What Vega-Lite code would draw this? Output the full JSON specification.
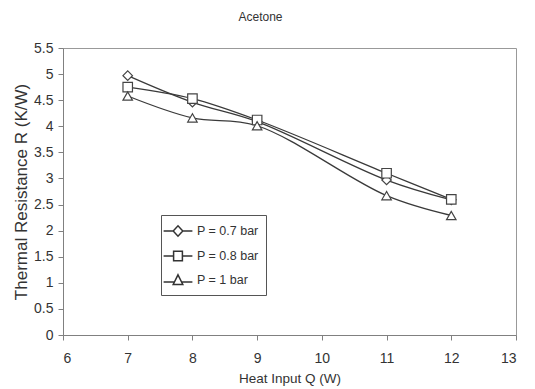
{
  "$schema": "https://vega.github.io/schema/vega-lite/v6.json",
  "width": 453,
  "height": 287,
  "autosize": {"type": "none"},
  "padding": {"left": 63, "top": 48, "right": 19, "bottom": 54},
  "background": "white",
  "title": {
    "text": "Acetone",
    "font": "Liberation Sans, sans-serif",
    "fontSize": 12,
    "fontWeight": "normal",
    "color": "#333333",
    "anchor": "middle",
    "dx": -29,
    "offset": 17
  },
  "config": {
    "view": {"stroke": "#999999", "strokeWidth": 1},
    "axis": {
      "grid": false,
      "domainColor": "#808080",
      "tickColor": "#808080",
      "tickSize": 5,
      "labelFont": "Liberation Sans, sans-serif",
      "labelFontSize": 14,
      "labelColor": "#333333",
      "titleFont": "Liberation Sans, sans-serif",
      "titleFontSize": 13.5,
      "titleFontWeight": "normal",
      "titleColor": "#333333"
    }
  },
  "data": {
    "values": [
      {"Q": 7, "R": 4.97, "P": "P = 0.7 bar"},
      {"Q": 8, "R": 4.46, "P": "P = 0.7 bar"},
      {"Q": 9, "R": 4.09, "P": "P = 0.7 bar"},
      {"Q": 11, "R": 2.97, "P": "P = 0.7 bar"},
      {"Q": 12, "R": 2.59, "P": "P = 0.7 bar"},
      {"Q": 7, "R": 4.75, "P": "P = 0.8 bar"},
      {"Q": 8, "R": 4.53, "P": "P = 0.8 bar"},
      {"Q": 9, "R": 4.12, "P": "P = 0.8 bar"},
      {"Q": 11, "R": 3.1, "P": "P = 0.8 bar"},
      {"Q": 12, "R": 2.6, "P": "P = 0.8 bar"},
      {"Q": 7, "R": 4.58, "P": "P = 1 bar"},
      {"Q": 8, "R": 4.16, "P": "P = 1 bar"},
      {"Q": 9, "R": 4.01, "P": "P = 1 bar"},
      {"Q": 11, "R": 2.67, "P": "P = 1 bar"},
      {"Q": 12, "R": 2.29, "P": "P = 1 bar"}
    ]
  },
  "encoding": {
    "x": {
      "field": "Q",
      "type": "quantitative",
      "scale": {"domain": [6, 13], "nice": false, "zero": false},
      "axis": {"values": [6, 7, 8, 9, 10, 11, 12, 13], "title": "Heat Input Q (W)", "labelPadding": 11, "titlePadding": 6}
    },
    "y": {
      "field": "R",
      "type": "quantitative",
      "scale": {"domain": [0, 5.5], "nice": false},
      "axis": {
        "values": [0, 0.5, 1, 1.5, 2, 2.5, 3, 3.5, 4, 4.5, 5, 5.5],
        "format": "~g",
        "title": "Thermal Resistance R (K/W)",
        "titleFontSize": 17,
        "labelPadding": 5,
        "titlePadding": 3
      }
    }
  },
  "resolve": {"scale": {"shape": "independent"}},
  "layer": [
    {
      "mark": {"type": "line", "interpolate": "catmull-rom", "color": "#3a3a3a", "strokeWidth": 1.3},
      "encoding": {"detail": {"field": "P", "type": "nominal"}}
    },
    {
      "mark": {"type": "point", "filled": false, "fill": "white", "fillOpacity": 1, "stroke": "#444444", "strokeWidth": 1.2, "opacity": 1, "size": 90},
      "encoding": {
        "shape": {
          "field": "P",
          "type": "nominal",
          "scale": {"domain": ["P = 0.7 bar", "P = 0.8 bar", "P = 1 bar"], "range": ["diamond", "square", "triangle-up"]},
          "legend": null
        }
      }
    },
    {
      "mark": {"type": "point", "stroke": "#333333", "fill": "white", "strokeWidth": 1.2, "opacity": 0, "size": 256},
      "encoding": {
        "shape": {
          "field": "P",
          "type": "nominal",
          "scale": {
            "domain": ["P = 0.7 bar", "P = 0.8 bar", "P = 1 bar"],
            "range": [
              "M-1.8,0L-0.6,0M0.6,0L1.8,0M-0.6,0L0,-0.65L0.6,0L0,0.65Z",
              "M-1.8,0L-0.55,0M0.55,0L1.8,0M-0.55,-0.6L0.55,-0.6L0.55,0.6L-0.55,0.6Z",
              "M-1.8,0.25L-0.45,0.25M0.45,0.25L1.8,0.25M0,-0.65L0.6,0.55L-0.6,0.55Z"
            ]
          },
          "legend": {
            "title": null,
            "orient": "none",
            "legendX": 98,
            "legendY": 167,
            "direction": "vertical",
            "padding": 7,
            "strokeColor": "#555555",
            "fillColor": "white",
            "symbolSize": 256,
            "symbolOffset": 1,
            "labelFont": "Liberation Sans, sans-serif",
            "labelFontSize": 12.5,
            "labelColor": "#333333",
            "labelOffset": 10,
            "rowPadding": 7,
            "encode": {
              "symbols": {
                "update": {
                  "opacity": {"value": 1},
                  "fill": {"value": "white"},
                  "fillOpacity": {"value": 1},
                  "stroke": {"value": "#333333"},
                  "strokeOpacity": {"value": 1},
                  "strokeWidth": {"value": 1.2}
                }
              }
            }
          }
        }
      }
    }
  ]
}
